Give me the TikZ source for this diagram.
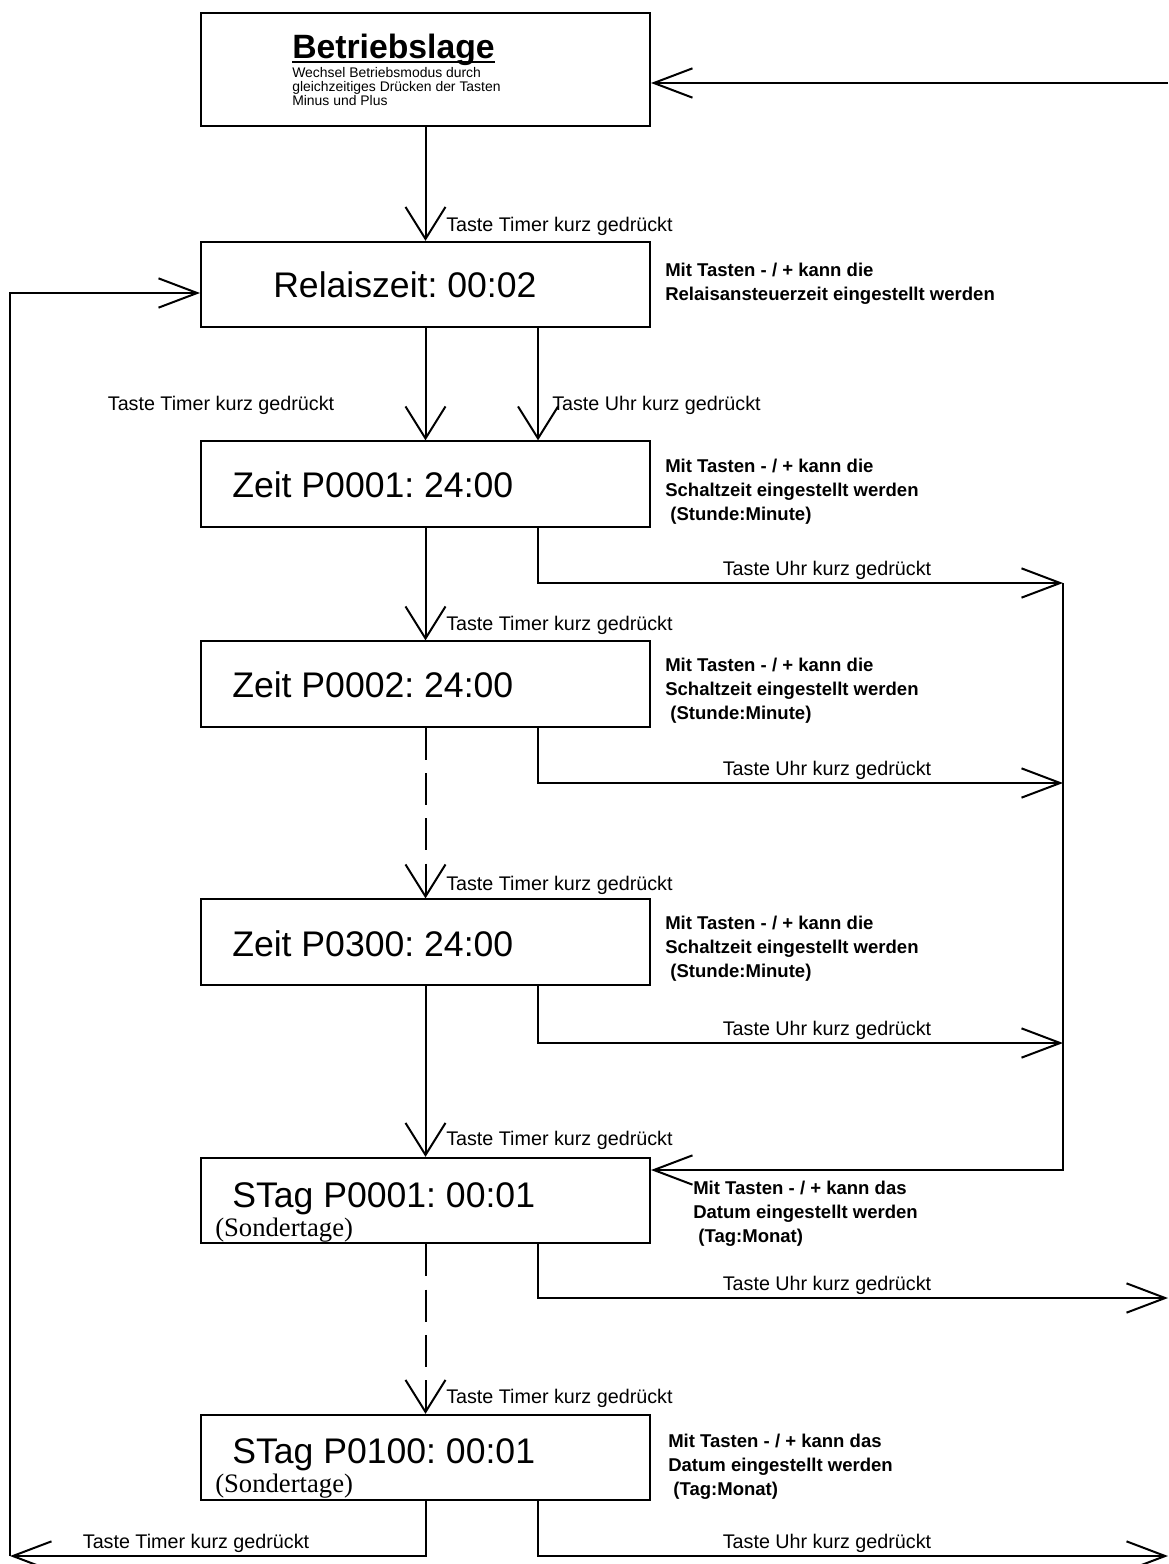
\documentclass[tikz,border=0pt]{standalone}
\usepackage{fontspec}
\setmainfont{Liberation Sans}
\newfontfamily\serifschrift{Liberation Serif}
\frenchspacing
\usetikzlibrary{arrows.meta, positioning}
\tikzset{
  box/.style={draw,line width=1.5pt,minimum width=336.75pt,minimum height=64pt,inner sep=0pt},
  anzeige/.style={font=\fontsize{26.7}{30}\selectfont,inner sep=0pt,anchor=west},
  sonder/.style={font=\serifschrift\fontsize{20}{22}\selectfont,inner sep=0pt,anchor=west},
  klein/.style={font=\fontsize{14.8}{17}\selectfont,inner sep=0pt},
  hinweis/.style={font=\fontsize{13.9}{18}\selectfont\bfseries,align=left,anchor=north west,inner sep=0pt},
  pfeil/.style={-{Straight Barb[length=29pt,width=22pt]},line width=1.5pt},
  pfeilab/.style={-{Straight Barb[length=24pt,width=30pt]},line width=1.5pt},
  gestrichelt/.style={dash pattern=on 24pt off 10pt},
}
\begin{document}
\begin{tikzpicture}[x=0.75pt,y=-0.75pt]
  \useasboundingbox (0,0) rectangle (1168,1564);

  % Kaesten
  \node[box,minimum height=84.75pt] (betrieb) at (425.5,69.5) {};
  \node[box] (relais) at (425.5,284.5) {};
  \node[box] (zeit1) at (425.5,484) {};
  \node[box] (zeit2) at (425.5,684) {};
  \node[box] (zeit300) at (425.5,942) {};
  \node[box] (stag1) at (425.5,1200.5) {};
  \node[box] (stag100) at (425.5,1457.5) {};

  % Anzeigetexte
  \node[anchor=base west,inner sep=0pt,font=\fontsize{25.3}{30}\selectfont\bfseries] (titel) at (292,58) {Betriebslage};
  \draw[line width=2.2pt] ([yshift=-3pt]titel.base west) -- ([yshift=-3pt]titel.base east);
  \node[anchor=north west,inner sep=0pt,align=left,font=\fontsize{10.45}{10.5}\selectfont] (modus) at (292,67) {Wechsel Betriebsmodus durch\\gleichzeitiges Drücken der Tasten\\Minus und Plus};
  \node[anzeige] (relaistext) at (273,284.5) {Relaiszeit: 00:02};
  \node[anzeige] (zeit1text) at (232,485) {Zeit P0001: 24:00};
  \node[anzeige] (zeit2text) at (232,685) {Zeit P0002: 24:00};
  \node[anzeige] (zeit300text) at (232,944) {Zeit P0300: 24:00};
  \node[anzeige] (stag1text) at (232,1199) {STag P0001: 00:01};
  \node[sonder] (sonder1) at (215,1230) {(Sondertage)};
  \node[anzeige] (stag100text) at (232,1455) {STag P0100: 00:01};
  \node[sonder] (sonder100) at (215,1486) {(Sondertage)};

  % Hinweise
  \node[hinweis] (hrelais) at (665,263) {Mit Tasten - / + kann die\\Relaisansteuerzeit eingestellt werden};
  \node[hinweis] (hzeit1) at (665,459) {Mit Tasten - / + kann die\\Schaltzeit eingestellt werden\\\ (Stunde:Minute)};
  \node[hinweis] (hzeit2) at (665,658) {Mit Tasten - / + kann die\\Schaltzeit eingestellt werden\\\ (Stunde:Minute)};
  \node[hinweis] (hzeit300) at (665,916) {Mit Tasten - / + kann die\\Schaltzeit eingestellt werden\\\ (Stunde:Minute)};
  \node[hinweis] (hstag1) at (693,1181) {Mit Tasten - / + kann das\\Datum eingestellt werden\\\ (Tag:Monat)};
  \node[hinweis] (hstag100) at (668,1434) {Mit Tasten - / + kann das\\Datum eingestellt werden\\\ (Tag:Monat)};

  % Taste Timer
  \draw[pfeilab] (betrieb.south) -- (relais.north);
  \draw[pfeilab] (relais.south) -- (zeit1.north);
  \draw[pfeilab] (zeit1.south) -- (zeit2.north);
  \draw[pfeilab,gestrichelt] (zeit2.south) -- (zeit300.north);
  \draw[pfeilab] (zeit300.south) -- (stag1.north);
  \draw[pfeilab,gestrichelt] (stag1.south) -- (stag100.north);
  \foreach \y/\n in {226/t1,625/t2,885/t3,1140/t4,1398/t5}
    \node[klein,anchor=west] (\n) at (446,\y) {Taste Timer kurz gedrückt};
  \node[klein] (t0) at (221,405) {Taste Timer kurz gedrückt};

  % Taste Uhr
  \coordinate (rueck) at (1168,83);
  \coordinate (sammel1) at (1063,583);
  \coordinate (sammel2) at (1063,783);
  \coordinate (sammel3) at (1063,1043);
  \coordinate (knick) at (1063,1170);
  \coordinate (aus1) at (1168,1298);
  \coordinate (aus2) at (1168,1556);
  \draw[pfeil] (rueck) -- (rueck -| betrieb.east);
  \draw[pfeilab] ([xshift=84.4pt]relais.south) -- ([xshift=84.4pt]zeit1.north);
  \draw[pfeil] ([xshift=84.4pt]zeit1.south) |- (sammel1);
  \draw[pfeil] ([xshift=84.4pt]zeit2.south) |- (sammel2);
  \draw[pfeil] ([xshift=84.4pt]zeit300.south) |- (sammel3);
  \draw[pfeil] (sammel1) -- (knick) -- (knick -| stag1.east);
  \draw[pfeil] ([xshift=84.4pt]stag1.south) |- (aus1);
  \draw[pfeil] ([xshift=84.4pt]stag100.south) |- (aus2);
  \node[klein,anchor=west] (u0) at (552,405) {Taste Uhr kurz gedrückt};
  \foreach \y/\n in {570/u1,770/u2,1030/u3,1285/u4,1543/u5}
    \node[klein] (\n) at (827,\y) {Taste Uhr kurz gedrückt};

  % zurueck zur Relaiszeit
  \coordinate (ecke) at (10,1556);
  \coordinate (links) at (10,293);
  \draw[pfeil] (stag100.south) |- (ecke);
  \draw[pfeil] (ecke) -- (links) -- (links -| relais.west);
  \node[klein] (t6) at (196,1543) {Taste Timer kurz gedrückt};
\end{tikzpicture}
\end{document}
